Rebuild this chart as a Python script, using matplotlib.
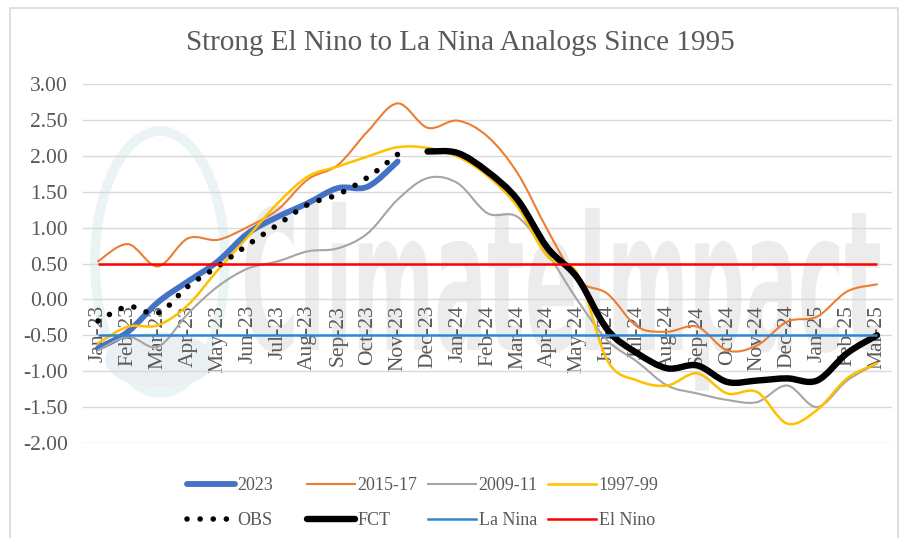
import numpy as np
import matplotlib
matplotlib.use('Agg')
import matplotlib.pyplot as plt
from matplotlib.path import Path
from matplotlib.patches import PathPatch, Rectangle, Ellipse
from matplotlib.lines import Line2D
from matplotlib.textpath import TextPath
from matplotlib.font_manager import FontProperties
import matplotlib.transforms as mtransforms

# ---------------- data ----------------
months = ['Jan-23', 'Feb-23', 'Mar-23', 'Apr-23', 'May-23', 'Jun-23', 'Jul-23',
          'Aug-23', 'Sep-23', 'Oct-23', 'Nov-23', 'Dec-23', 'Jan-24', 'Feb-24',
          'Mar-24', 'Apr-24', 'May-24', 'Jun-24', 'Jul-24', 'Aug-24', 'Sep-24',
          'Oct-24', 'Nov-24', 'Dec-24', 'Jan-25', 'Feb-25', 'Mar-25']

s2023 = [-0.68, -0.45, -0.04, 0.25, 0.53, 0.92, 1.15, 1.34, 1.55, 1.57, 1.92]
obs = [-0.30, -0.10, -0.19, 0.18, 0.46, 0.76, 1.04, 1.32, 1.46, 1.70, 2.02]
s2015_17 = [0.53, 0.77, 0.46, 0.85, 0.83, 1.01, 1.25, 1.67, 1.87, 2.34, 2.73, 2.39,
            2.49, 2.27, 1.76, 0.97, 0.27, 0.08, -0.38, -0.45, -0.38, -0.71, -0.64,
            -0.31, -0.24, 0.11, 0.21]
s2009_11 = [-0.71, -0.52, -0.66, -0.20, 0.18, 0.43, 0.53, 0.67, 0.71, 0.92, 1.39, 1.69,
            1.62, 1.20, 1.15, 0.64, -0.01, -0.57, -0.87, -1.20, -1.31, -1.40, -1.43,
            -1.20, -1.50, -1.13, -0.89]
s1997_99 = [-0.61, -0.38, -0.36, -0.08, 0.41, 0.87, 1.34, 1.71, 1.85, 1.99, 2.12, 2.11,
            1.99, 1.72, 1.29, 0.60, 0.36, -0.85, -1.13, -1.20, -1.03, -1.31, -1.29,
            -1.73, -1.54, -1.10, -0.89]
fct_start = 'Dec-23'
fct = [2.06, 2.04, 1.78, 1.39, 0.72, 0.30, -0.42, -0.75, -0.96, -0.92, -1.15, -1.13,
       -1.10, -1.13, -0.75, -0.50]
la_nina = -0.5
el_nino = 0.5

yticks = [3.0, 2.5, 2.0, 1.5, 1.0, 0.5, 0.0, -0.5, -1.0, -1.5, -2.0]

# ---------------- style ----------------
SERIF = ['Liberation Serif', 'DejaVu Serif']
TXT = '#595959'
GRID = '#d9d9d9'

W, H = 901, 538
fig = plt.figure(figsize=(W / 100, H / 100), dpi=100)
fig.patch.set_facecolor('white')

ax = fig.add_axes([83 / W, 1 - 443 / H, (892 - 83) / W, (443 - 84) / H])
ax.set_facecolor('none')
ax.set_axisbelow(True)


def smooth_path(x, y):
    """Excel-style smoothed line: cubic Bezier through the data points."""
    x = np.asarray(x, float)
    y = np.asarray(y, float)
    n = len(x)
    verts = [(x[0], y[0])]
    codes = [Path.MOVETO]
    for i in range(n - 1):
        a = max(i - 1, 0)
        d = min(i + 2, n - 1)
        c1 = (x[i] + (x[i + 1] - x[a]) / 6, y[i] + (y[i + 1] - y[a]) / 6)
        c2 = (x[i + 1] - (x[d] - x[i]) / 6, y[i + 1] - (y[d] - y[i]) / 6)
        verts += [c1, c2, (x[i + 1], y[i + 1])]
        codes += [Path.CURVE4] * 3
    return Path(verts, codes)


def draw_series(xs, ys, z, **kw):
    p = PathPatch(smooth_path(xs, ys), fill=False, zorder=z,
                  capstyle='round', joinstyle='round', **kw)
    ax.add_patch(p)


xi = np.arange(len(months))
i_fct = months.index(fct_start)

# watermark (faint logo + text)
fp = FontProperties(family='DejaVu Sans', weight='bold')
tp = TextPath((0, 0), 'ClimateImpact', size=1, prop=fp)
ext = tp.get_extents()
tw_in = (880 - 245) / 100
sx = tw_in / ext.width
sy = 1.95
trans = mtransforms.Affine2D().translate(-ext.x0, 0).scale(sx, sy).translate(2.45, (H - 350) / 100) + fig.dpi_scale_trans
wm = PathPatch(tp, transform=trans, facecolor='#ececec', edgecolor='none', zorder=0.2, clip_on=False)
ax.add_artist(wm)
ell = Ellipse((1.60, (H - 262) / 100), 1.30, 2.62, transform=fig.dpi_scale_trans,
              fill=False, ec='#eaf4f4', lw=7, zorder=0.1, clip_on=False)
ax.add_artist(ell)
ell2 = Ellipse((1.60, (H - 360) / 100), 1.10, 0.55, transform=fig.dpi_scale_trans,
               fc='#eaeff4', ec='none', zorder=0.1, clip_on=False)
ax.add_artist(ell2)

# series in Excel order
draw_series(xi[:len(s2023)], s2023, 3, edgecolor='#4472C4', lw=4.2)
draw_series(xi, s2015_17, 3.1, edgecolor='#ED7D31', lw=1.5)
draw_series(xi, s2009_11, 3.2, edgecolor='#A5A5A5', lw=1.5)
draw_series(xi, s1997_99, 3.3, edgecolor='#FFC000', lw=1.8)
draw_series(xi[:len(obs)], obs, 3.4, edgecolor='black', lw=4.0, linestyle=(0, (0.01, 2.35)))
draw_series(xi[i_fct:i_fct + len(fct)], fct, 3.5, edgecolor='black', lw=4.6)
ax.plot([xi[0], xi[-1]], [la_nina, la_nina], color='#2E86D0', lw=1.8, zorder=3.6, solid_capstyle='butt')
ax.plot([xi[0], xi[-1]], [el_nino, el_nino], color='#FF0000', lw=1.8, zorder=3.7, solid_capstyle='butt')

# axes
ax.set_xlim(-0.5, len(months) - 0.5)
ax.set_ylim(-2.0, 3.0)
ax.set_yticks(yticks)
ax.set_yticklabels([f'{v:.2f}' for v in yticks])
ax.set_xticks(xi)
ax.set_xticklabels(months)
ax.grid(axis='y', color=GRID, lw=1.0, zorder=0.5)
ax.grid(axis='x', visible=False)
for s in ['top', 'right', 'left']:
    ax.spines[s].set_visible(False)
ax.spines['bottom'].set_position(('data', 0))
ax.spines['bottom'].set_color(GRID)
ax.spines['bottom'].set_zorder(0.5)
ax.tick_params(axis='y', length=0, pad=11, labelsize=15.5, labelcolor=TXT)
ax.tick_params(axis='x', length=0, pad=4, labelsize=15.5, labelcolor=TXT, labelrotation=90)
for lab in ax.get_xticklabels() + ax.get_yticklabels():
    lab.set_family(SERIF)
for lab in ax.get_xticklabels():
    lab.set_rotation(90)
    lab.set_ha('center')
    lab.set_va('top')

# title
fig.text(0.511, 1 - 43 / H, 'Strong El Nino to La Nina Analogs Since 1995',
         ha='center', va='center', fontsize=21, color=TXT, family=SERIF)

# legend (4 fixed-width columns, 2 rows)
cols = [
    [('2023', dict(color='#4472C4', lw=4.2, solid_capstyle='round')),
     ('OBS', dict(color='black', lw=4.0, linestyle=(0, (0.01, 2.35)), dash_capstyle='round'))],
    [('2015-17', dict(color='#ED7D31', lw=1.5)),
     ('FCT', dict(color='black', lw=4.6, solid_capstyle='round'))],
    [('2009-11', dict(color='#A5A5A5', lw=1.5)),
     ('La Nina', dict(color='#2E86D0', lw=1.8))],
    [('1997-99', dict(color='#FFC000', lw=1.8)),
     ('El Nino', dict(color='#FF0000', lw=1.8))],
]
col_x = [187, 307, 428, 548]
for cx, entries in zip(col_x, cols):
    handles = [Line2D([], [], **kw) for _, kw in entries]
    labels = [lab for lab, _ in entries]
    leg = fig.legend(handles, labels, loc='upper left', bbox_to_anchor=(cx / W, 1 - 477 / H),
                     frameon=False, borderpad=0, borderaxespad=0, handlelength=2.65,
                     handletextpad=0.15, labelspacing=1.0,
                     prop=FontProperties(family=SERIF, size=13))
    for t in leg.get_texts():
        t.set_color(TXT)

# outer chart border
fig.add_artist(Rectangle((10 / W, -0.02), (898 - 10) / W, (H - 8) / H + 0.02,
                         transform=fig.transFigure, fill=False, ec='#d9d9d9', lw=1.2))

fig.savefig('out.png', dpi=100)
